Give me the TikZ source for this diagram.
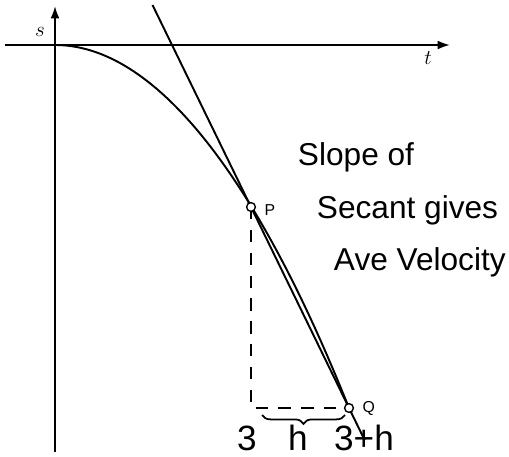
\documentclass[tikz,border=0pt]{standalone}
\usepackage{fontspec}
\setsansfont{Liberation Sans}
\usetikzlibrary{calc,arrows.meta,decorations.pathreplacing}

\begin{document}
\begin{tikzpicture}[
    x=0.02cm, y=-0.02cm,
    line width=1.1pt,
    axis/.style={-{Latex[length=7pt,width=5pt]}},
    dot/.style={draw, circle, fill=white, inner sep=0pt, minimum size=5pt, line width=0.8pt},
    guide/.style={dashed, dash pattern=on 7pt off 6pt, line width=1.2pt},
    hand/.style={font=\sffamily\fontsize{18}{18}\selectfont, anchor=base west, inner sep=0pt},
    tick/.style={font=\sffamily\fontsize{20}{20}\selectfont, anchor=base, inner sep=0pt},
    ptlabel/.style={font=\sffamily\fontsize{9}{9}\selectfont, anchor=west, inner sep=1pt}
]
\useasboundingbox (0,0) rectangle (509,456);

% axes
\coordinate (O) at (55,45);
\coordinate (tStart) at (5,45);
\coordinate (tEnd) at (450,45);
\coordinate (sStart) at (55,452);
\coordinate (sEnd) at (55,6);
\draw[axis] (tStart) -- (tEnd);
\draw[axis] (sStart) -- (sEnd);
\node[font=\large] (sLab) at (40,32) {$s$};
\node[font=\large] (tLab) at (428,58) {$t$};

% curve and secant
\coordinate (p) at (251,207);
\coordinate (q) at (349,408);
\draw (O) parabola (q);
\coordinate (secTop) at ($(p)!-1.005!(q)$);
\coordinate (secBot) at ($(p)!1.16!(q)$);
\draw (secTop) -- (secBot);

% the step h
\coordinate (foot) at (p |- q);
\draw[guide] (p) -- (foot) -- (q);
\coordinate (brL) at (262,415);
\coordinate (brR) at (345,415);
\draw[line width=1pt, decorate, decoration={brace, mirror, amplitude=5pt}] (brL) -- (brR);

\node[dot] (P) at (p) {};
\node[dot] (Q) at (q) {};
\node[ptlabel] (PLab) at (262,210) {P};
\node[ptlabel] (QLab) at (360,408) {Q};

\node[tick] (three) at (247,450) {3};
\node[tick] (hLab) at (298,450) {h};
\node[tick] (threeh) at (364,450) {3+h};

\node[hand] (slope) at (297,165) {Slope of};
\node[hand] (secant) at (316,218) {Secant gives};
\node[hand] (velocity) at (333,270) {Ave Velocity};

\end{tikzpicture}
\end{document}
